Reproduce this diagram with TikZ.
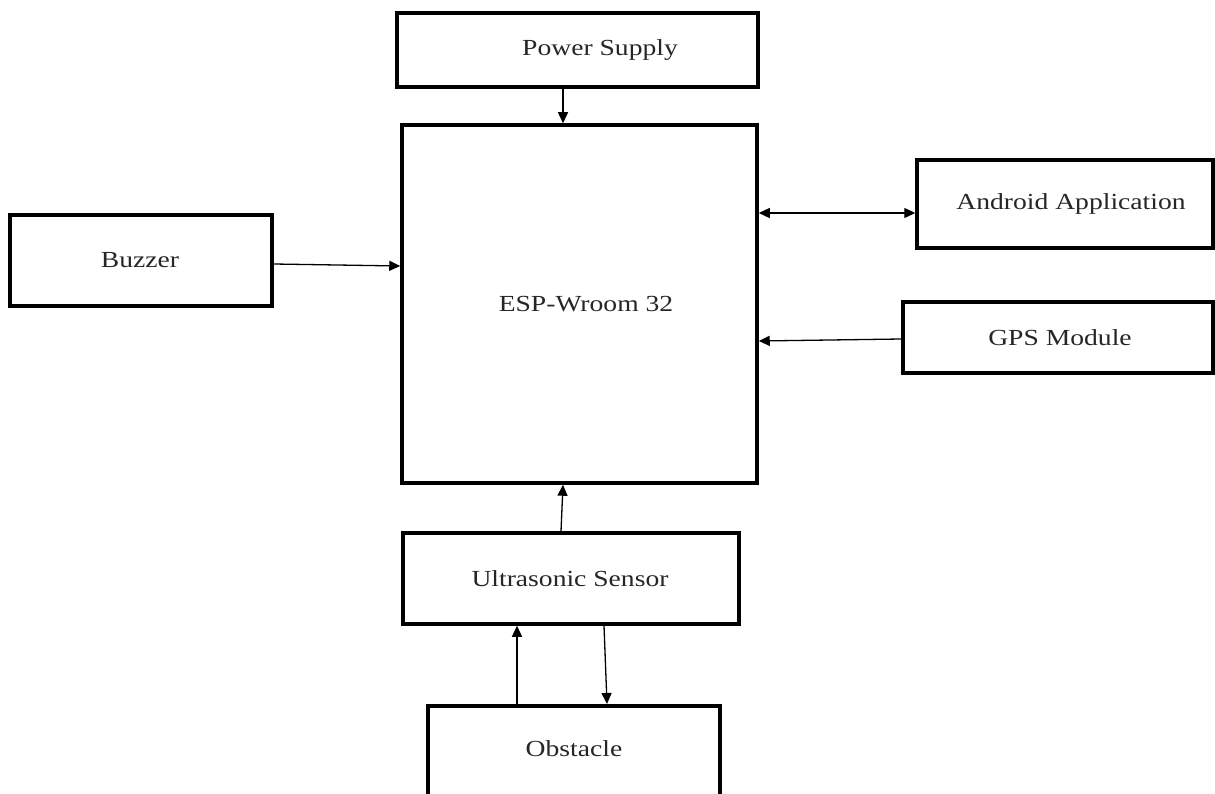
\documentclass[tikz,border=0pt]{standalone}
\usepackage{fontspec}
\setmainfont[FakeStretch=1.2]{Liberation Serif}
\usetikzlibrary{arrows.meta}
\begin{document}
\begin{tikzpicture}[x=1pt,y=-1pt,
  blk/.style={draw=black, line width=3.5pt, rectangle, inner sep=0pt, fill=white,
    font=\fontsize{23}{27}\selectfont, text=black!85},
  conn/.style={line width=1.3pt, -{Triangle[length=11pt,width=10pt]}},
  conn2/.style={line width=1.3pt, {Triangle[length=11pt,width=10pt]}-{Triangle[length=11pt,width=10pt]}}]
\clip (0,0) rectangle (1215,794);
\fill[white] (0,0) rectangle (1215,794);
% boxes
\node[blk, minimum width=361pt, minimum height=74pt] (ps) at (577.5,50) {\hspace*{45pt}Power Supply};
\node[blk, minimum width=355pt, minimum height=358pt] (esp) at (579.5,304) {\hspace*{13pt}ESP-Wroom 32};
\node[blk, minimum width=262pt, minimum height=91pt] (buz) at (141,260.5) {\hspace*{-2pt}Buzzer};
\node[blk, minimum width=296pt, minimum height=88pt] (and) at (1065,204) {\hspace*{12pt}Android Application};
\node[blk, minimum width=310pt, minimum height=71pt] (gps) at (1058,337.5) {\hspace*{4pt}GPS Module};
\node[blk, minimum width=336pt, minimum height=91pt] (us) at (571,578.5) {\hspace*{-2pt}Ultrasonic Sensor};
\node[blk, minimum width=292pt, minimum height=100pt, anchor=north] (obs) at (574,704) {};
\node[font=\fontsize{23}{27}\selectfont, text=black!85, inner sep=0pt] (obst) at (obs.north |- 0,749) {Obstacle};
% connectors
\draw[conn] ([xshift=-14.5pt]ps.south) -- ([xshift=-16.5pt]esp.north);
\draw[conn] ([yshift=-3.5pt]buz.east) -- ([yshift=38pt]esp.west);
\draw[conn2] ([yshift=91pt]esp.east) -- ([yshift=-9pt]and.west);
\draw[conn] ([yshift=-1.5pt]gps.west) -- ([yshift=-37pt]esp.east);
\draw[conn] ([xshift=-10pt]us.north) -- ([xshift=-16.5pt]esp.south);
\draw[conn] ([xshift=-57pt]obs.north) -- ([xshift=-54pt]us.south);
\draw[conn] ([xshift=33pt]us.south) -- ([xshift=33pt]obs.north);
\end{tikzpicture}
\end{document}
